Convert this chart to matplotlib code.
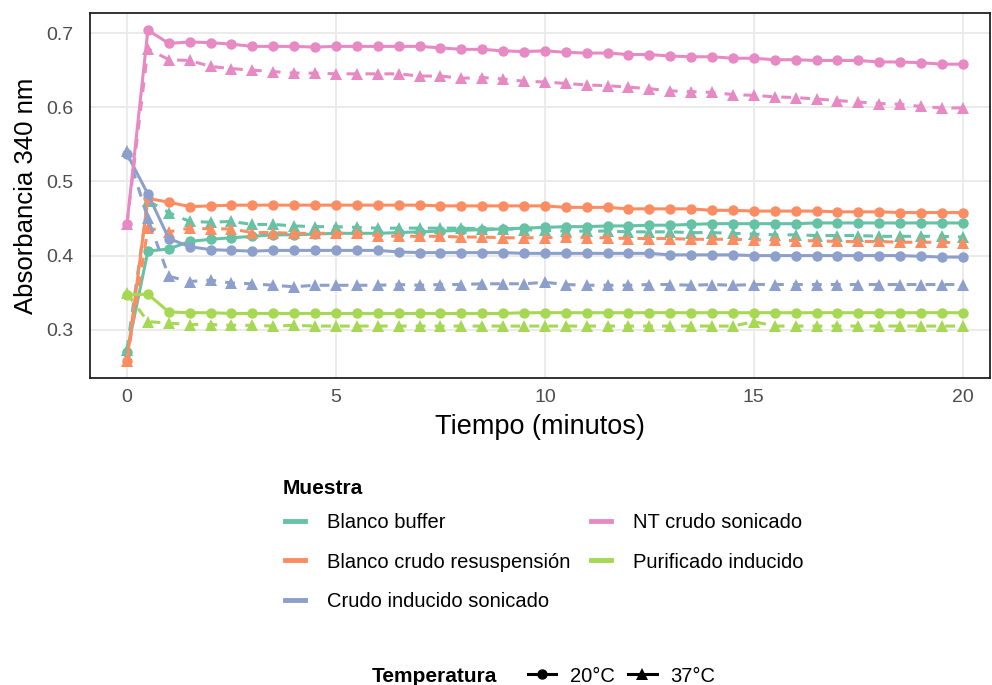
import matplotlib
matplotlib.use("Agg")
import matplotlib.pyplot as plt
from matplotlib.lines import Line2D

plt.rcParams['font.family'] = ['Liberation Sans', 'DejaVu Sans']

time_min = [0, 0.5, 1, 1.5, 2, 2.5, 3, 3.5, 4, 4.5,
            5, 5.5, 6, 6.5, 7, 7.5, 8, 8.5, 9, 9.5,
            10, 10.5, 11, 11.5, 12, 12.5, 13, 13.5, 14, 14.5,
            15, 15.5, 16, 16.5, 17, 17.5, 18, 18.5, 19, 19.5, 20]

samples = ["Blanco buffer", "Blanco crudo resuspensión", "Crudo inducido sonicado",
           "NT crudo sonicado", "Purificado inducido"]
colors = ["#66C2A5", "#FC8D62", "#8DA0CB", "#E78AC3", "#A6D854"]
temps = ["20°C", "37°C"]

blanco_buffer_20 = [0.270, 0.406, 0.409, 0.419, 0.422, 0.424, 0.426, 0.428, 0.428, 0.429,
                    0.430, 0.430, 0.430, 0.431, 0.432, 0.433, 0.434, 0.435, 0.436, 0.437,
                    0.438, 0.439, 0.439, 0.440, 0.440, 0.441, 0.441, 0.442, 0.443, 0.443,
                    0.443, 0.443, 0.443, 0.444, 0.444, 0.444, 0.444, 0.444, 0.444, 0.444, 0.444]
blanco_buffer_37 = [0.273, 0.474, 0.458, 0.446, 0.445, 0.446, 0.442, 0.442, 0.440, 0.439,
                    0.439, 0.438, 0.437, 0.437, 0.437, 0.437, 0.437, 0.436, 0.436, 0.435,
                    0.434, 0.433, 0.433, 0.433, 0.432, 0.432, 0.432, 0.431, 0.431, 0.430,
                    0.429, 0.428, 0.428, 0.427, 0.427, 0.427, 0.426, 0.426, 0.426, 0.426, 0.425]
blanco_crudo_20 = [0.258, 0.477, 0.472, 0.466, 0.467, 0.468, 0.468, 0.468, 0.468, 0.468,
                   0.468, 0.468, 0.468, 0.468, 0.468, 0.467, 0.467, 0.467, 0.467, 0.467,
                   0.467, 0.465, 0.465, 0.465, 0.463, 0.463, 0.463, 0.463, 0.461, 0.461,
                   0.460, 0.460, 0.460, 0.460, 0.459, 0.459, 0.459, 0.458, 0.458, 0.458, 0.458]
blanco_crudo_37 = [0.258, 0.437, 0.432, 0.437, 0.436, 0.436, 0.431, 0.431, 0.430, 0.430,
                   0.430, 0.430, 0.427, 0.426, 0.426, 0.426, 0.425, 0.425, 0.424, 0.424,
                   0.424, 0.425, 0.424, 0.424, 0.423, 0.423, 0.423, 0.422, 0.422, 0.422,
                   0.421, 0.421, 0.420, 0.420, 0.419, 0.419, 0.419, 0.418, 0.418, 0.418, 0.417]
crudo_ind_20 = [0.537, 0.483, 0.423, 0.412, 0.408, 0.407, 0.406, 0.407, 0.407, 0.407,
                0.407, 0.407, 0.407, 0.405, 0.404, 0.404, 0.404, 0.404, 0.404, 0.403,
                0.403, 0.403, 0.403, 0.403, 0.403, 0.403, 0.401, 0.401, 0.401, 0.401,
                0.400, 0.400, 0.400, 0.400, 0.400, 0.400, 0.400, 0.400, 0.399, 0.398, 0.398]
crudo_ind_37 = [0.541, 0.450, 0.372, 0.365, 0.367, 0.363, 0.362, 0.360, 0.358, 0.360,
                0.360, 0.360, 0.360, 0.361, 0.360, 0.361, 0.361, 0.362, 0.362, 0.362,
                0.364, 0.361, 0.360, 0.360, 0.360, 0.361, 0.361, 0.360, 0.361, 0.360,
                0.361, 0.361, 0.361, 0.361, 0.361, 0.361, 0.361, 0.361, 0.361, 0.361, 0.361]
nt_crudo_20 = [0.443, 0.704, 0.686, 0.688, 0.687, 0.685, 0.682, 0.682, 0.682, 0.681,
               0.682, 0.682, 0.682, 0.682, 0.682, 0.680, 0.678, 0.678, 0.676, 0.675,
               0.676, 0.674, 0.673, 0.673, 0.671, 0.671, 0.669, 0.668, 0.668, 0.666,
               0.666, 0.664, 0.664, 0.663, 0.663, 0.663, 0.661, 0.661, 0.660, 0.658, 0.658]
nt_crudo_37 = [0.443, 0.679, 0.664, 0.663, 0.655, 0.652, 0.650, 0.648, 0.646, 0.646,
               0.645, 0.645, 0.645, 0.645, 0.642, 0.642, 0.639, 0.640, 0.638, 0.635,
               0.634, 0.632, 0.630, 0.629, 0.627, 0.625, 0.622, 0.621, 0.620, 0.617,
               0.616, 0.614, 0.613, 0.611, 0.609, 0.607, 0.605, 0.604, 0.601, 0.599, 0.599]
purificado_20 = [0.347, 0.348, 0.324, 0.323, 0.323, 0.322, 0.322, 0.322, 0.322, 0.322,
                 0.322, 0.322, 0.322, 0.322, 0.322, 0.322, 0.322, 0.322, 0.322, 0.323,
                 0.323, 0.323, 0.323, 0.323, 0.323, 0.323, 0.323, 0.323, 0.323, 0.323,
                 0.323, 0.323, 0.323, 0.323, 0.323, 0.323, 0.323, 0.323, 0.323, 0.323, 0.323]
purificado_37 = [0.349, 0.311, 0.309, 0.307, 0.307, 0.306, 0.306, 0.305, 0.306, 0.305,
                 0.305, 0.305, 0.305, 0.305, 0.305, 0.305, 0.305, 0.305, 0.305, 0.305,
                 0.305, 0.305, 0.305, 0.305, 0.305, 0.305, 0.305, 0.305, 0.305, 0.305,
                 0.311, 0.305, 0.305, 0.305, 0.305, 0.305, 0.305, 0.305, 0.305, 0.305, 0.305]

series_20 = [blanco_buffer_20, blanco_crudo_20, crudo_ind_20, nt_crudo_20, purificado_20]
series_37 = [blanco_buffer_37, blanco_crudo_37, crudo_ind_37, nt_crudo_37, purificado_37]

x_ticks = [0, 5, 10, 15, 20]
y_ticks = [0.3, 0.4, 0.5, 0.6, 0.7]

fig = plt.figure(figsize=(9.92, 6.85), dpi=100)
ax = fig.add_axes([90 / 992, 1 - 378 / 685, 900 / 992, 365 / 685])

lw = 2.2
for name, col, s20, s37 in zip(samples, colors, series_20, series_37):
    ax.plot(time_min, s20, color=col, lw=lw, ls='-', marker='o', markersize=7.5,
            markeredgewidth=0, zorder=3)
    ax.plot(time_min, s37, color=col, lw=lw, ls=(0, (3.2, 3.0)), marker='^', markersize=9,
            markeredgewidth=0, zorder=3)

ax.set_xlim(-0.885, 20.65)
ax.set_ylim(0.235, 0.727)
ax.set_xticks(x_ticks)
ax.set_xticklabels([str(v) for v in x_ticks])
ax.set_yticks(y_ticks)
ax.set_yticklabels([f"{v:.1f}" for v in y_ticks])
ax.grid(True, color="#EBEBEB", lw=1.4, zorder=0)
ax.set_axisbelow(True)
ax.tick_params(length=0, labelsize=14, labelcolor="#4D4D4D")
ax.tick_params(axis='y', pad=12)
ax.tick_params(axis='x', pad=8)
for sp in ax.spines.values():
    sp.set_color("#222222")
    sp.set_linewidth(1.3)

ax.set_xlabel("Tiempo (minutos)", fontsize=19.5, labelpad=6)
ax.set_ylabel("Absorbancia 340 nm", fontsize=18.5, labelpad=6)

# Legend: Muestra
fig.text(283 / 992, 1 - 489 / 685, "Muestra", fontsize=15, fontweight='bold',
         va='center', ha='left')
handles = [Line2D([0], [0], color=c, lw=3.5) for c in colors]
leg1 = fig.legend(handles, samples, ncol=2, frameon=False,
                  loc='center left', bbox_to_anchor=(267 / 992, 1 - 562 / 685),
                  fontsize=14.5, handlelength=1.0, handletextpad=1.1, columnspacing=1.0,
                  labelspacing=1.02)

# Legend: Temperatura
th = [Line2D([0], [0], color='black', lw=2.2, marker='o', markersize=7.5, markeredgewidth=0),
      Line2D([0], [0], color='black', lw=2.2, marker='^', markersize=9, markeredgewidth=0)]
fig.text(372 / 992, 1 - 676 / 685, "Temperatura", fontsize=15, fontweight='bold',
         va='center', ha='left')
leg2 = fig.legend(th, temps, ncol=2, frameon=False, loc='center left',
                  bbox_to_anchor=(510 / 992, 1 - 676 / 685), fontsize=14.5,
                  handlelength=1.4, handletextpad=0.7, columnspacing=0.65)

fig.savefig("out.png", dpi=100)
